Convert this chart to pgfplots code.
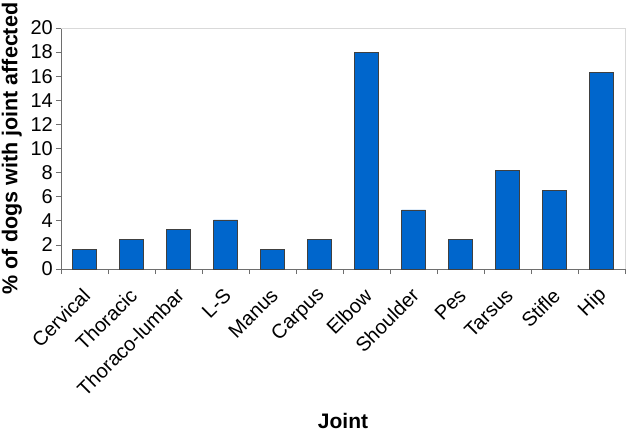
\documentclass[border=0pt]{standalone}
\usepackage{pgfplots}
\pgfplotsset{compat=1.18}
\usepackage{fontspec}
\setmainfont{Liberation Sans}
\definecolor{barblue}{RGB}{0,102,204}
\definecolor{axisgray}{RGB}{110,110,110}
\definecolor{framegray}{RGB}{217,217,217}
\begin{document}
\begin{tikzpicture}
\begin{axis}[
    scale only axis,
    width=564pt, height=241pt,
    at={(0,0)}, anchor=south west,
    ybar, bar width=24pt,
    xmin=-0.5, xmax=11.5,
    ymin=0, ymax=20,
    axis lines=left,
    axis line style={draw=axisgray, line width=0.8pt, -},
    ytick={0,2,...,20},
    xtick={0,...,11},
    xticklabels={Cervical,Thoracic,Thoraco-lumbar,L-S,Manus,Carpus,Elbow,Shoulder,Pes,Tarsus,Stifle,Hip},
    minor xtick={-0.5,0.5,...,11.5},
    tick align=outside,
    major x tick style={draw=none},
    minor x tick style={draw=axisgray, line width=0.8pt},
    y tick style={draw=axisgray, line width=0.8pt},
    minor tick length=5pt, major tick length=5pt,
    /pgf/number format/assume math mode=true,
    yticklabel style={font=\fontsize{20}{21}\selectfont, inner sep=1pt, xshift=-2pt},
    xticklabel style={font=\fontsize{20}{21}\selectfont, yshift=-18pt, xshift=2pt, rotate=45, anchor=east, inner sep=0pt},
    xlabel={Joint},
    xlabel style={font=\fontsize{21}{22}\selectfont\bfseries, at={(rel axis cs:0.5,0)}, anchor=base, yshift=-159pt},
    ylabel={\% of dogs with joint affected},
    ylabel style={font=\fontsize{21.5}{22}\selectfont\bfseries, at={(axis description cs:-0.087,0.5)}, anchor=center},
    clip=false,
]
\draw[framegray, line width=0.8pt] (rel axis cs:0,1) -- (rel axis cs:1,1) -- (rel axis cs:1,0);
\addplot[fill=barblue, draw=black!75, line width=0.5pt] coordinates {
    (0,1.63) (1,2.45) (2,3.27) (3,4.08) (4,1.63) (5,2.45)
    (6,17.95) (7,4.9) (8,2.45) (9,8.16) (10,6.53) (11,16.3)
};
\end{axis}
\pgfresetboundingbox
\useasboundingbox (-61pt,-164pt) rectangle (565pt,269pt);
\end{tikzpicture}
\end{document}
